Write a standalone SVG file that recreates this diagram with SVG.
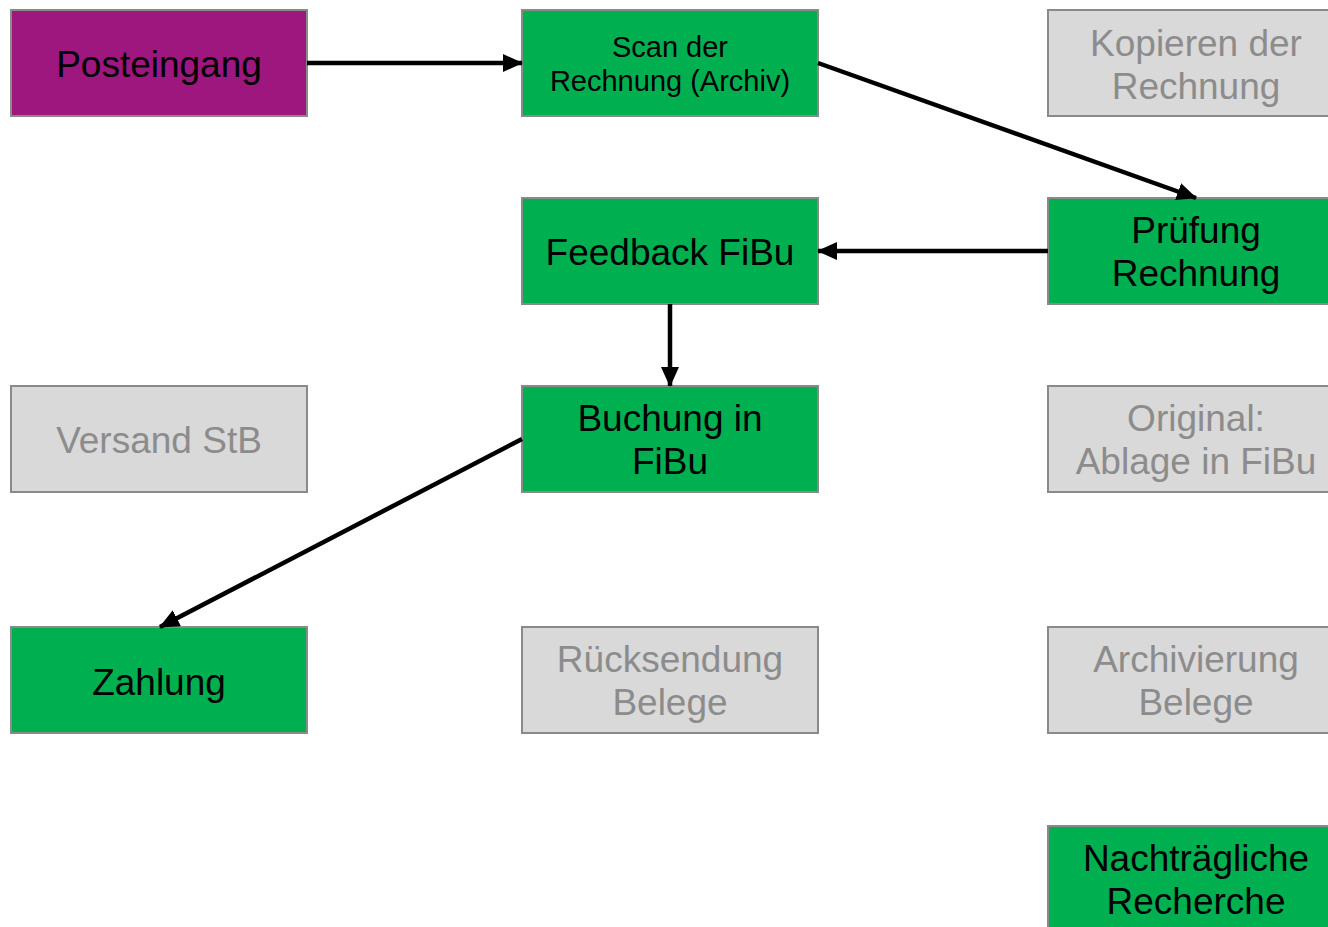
<svg xmlns="http://www.w3.org/2000/svg" width="1328" height="927" viewBox="0 0 1328 927">
<style>
rect{stroke:#8a8a8a;stroke-width:2}
.p{fill:#9E177F}.g{fill:#00B050}.n{fill:#D9D9D9}
text{font-family:"Liberation Sans",Arial,sans-serif;font-size:37px;text-anchor:middle;fill:#000}
.n+text{fill:#8C8C8C}
.c line{stroke:#000;stroke-width:4.5;marker-end:url(#ah)}
</style>
<defs>
<marker id="ah" markerUnits="userSpaceOnUse" markerWidth="20" markerHeight="18" viewBox="0 0 20 18" refX="19" refY="9" orient="auto">
<path d="M0,0 L20,9 L0,18 Z" fill="#000"/>
</marker>
</defs>
<rect width="1328" height="927" fill="#fff" style="stroke:none"/>
<g id="posteingang"><rect class="p" x="11" y="10" width="296" height="106"/><text x="159" y="77">Posteingang</text></g>
<g id="scan"><rect class="g" x="522" y="10" width="296" height="106"/><text x="670" y="57" style="font-size:29px"><tspan x="670">Scan der</tspan><tspan x="670" y="91">Rechnung (Archiv)</tspan></text></g>
<g id="kopieren"><rect class="n" x="1048" y="10" width="290" height="106"/><text x="1196" y="56"><tspan x="1196">Kopieren der</tspan><tspan x="1196" y="99">Rechnung</tspan></text></g>
<g id="feedback"><rect class="g" x="522" y="198" width="296" height="106"/><text x="670" y="265">Feedback FiBu</text></g>
<g id="pruefung"><rect class="g" x="1048" y="198" width="290" height="106"/><text x="1196" y="243"><tspan x="1196">Prüfung</tspan><tspan x="1196" y="286">Rechnung</tspan></text></g>
<g id="versand"><rect class="n" x="11" y="386" width="296" height="106"/><text x="159" y="453">Versand StB</text></g>
<g id="buchung"><rect class="g" x="522" y="386" width="296" height="106"/><text x="670" y="431"><tspan x="670">Buchung in</tspan><tspan x="670" y="474">FiBu</tspan></text></g>
<g id="original"><rect class="n" x="1048" y="386" width="290" height="106"/><text x="1196" y="431"><tspan x="1196">Original:</tspan><tspan x="1196" y="474">Ablage in FiBu</tspan></text></g>
<g id="zahlung"><rect class="g" x="11" y="627" width="296" height="106"/><text x="159" y="695">Zahlung</text></g>
<g id="ruecksendung"><rect class="n" x="522" y="627" width="296" height="106"/><text x="670" y="672"><tspan x="670">Rücksendung</tspan><tspan x="670" y="715">Belege</tspan></text></g>
<g id="archivierung"><rect class="n" x="1048" y="627" width="290" height="106"/><text x="1196" y="672"><tspan x="1196">Archivierung</tspan><tspan x="1196" y="715">Belege</tspan></text></g>
<g id="nachtraeglich"><rect class="g" x="1048" y="826" width="290" height="110"/><text x="1196" y="871"><tspan x="1196">Nachträgliche</tspan><tspan x="1196" y="914">Recherche</tspan></text></g>
<g id="connectors" class="c">
<line x1="307" y1="63" x2="522" y2="63"/>
<line x1="818" y1="63" x2="1196" y2="198"/>
<line x1="1048" y1="251" x2="818" y2="251"/>
<line x1="670" y1="304" x2="670" y2="386"/>
<line x1="522" y1="439" x2="160" y2="627"/>
</g>
</svg>
